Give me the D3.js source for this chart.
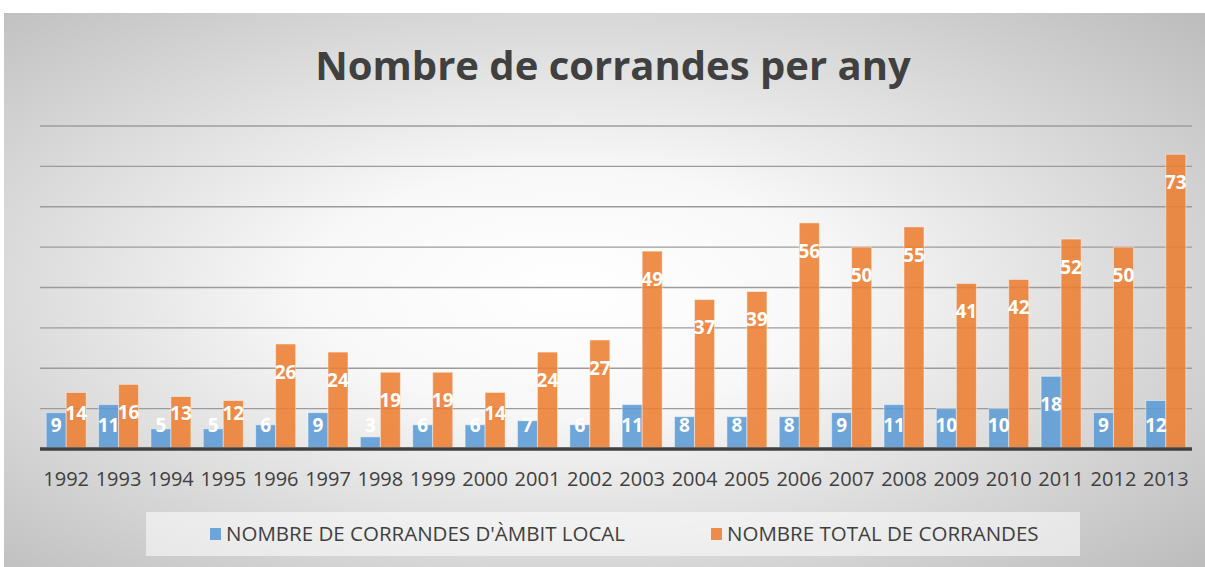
<!DOCTYPE html>
<html>
    <head>
        <title>Nombre de corrandes per any</title>
        <script src="https://d3js.org/d3.v7.min.js"></script>
        <style>
            * {
                font-family: 'Open Sans', sans-serif;
            }
            body {
                margin: 0;
                overflow: hidden;
                background: #ffffff;
            }
            svg {
                display: block;
            }
        </style>
    </head>
    <body>
        <script>
            const years = ['1992', '1993', '1994', '1995', '1996', '1997', '1998', '1999', '2000', '2001', '2002',
                '2003', '2004', '2005', '2006', '2007', '2008', '2009', '2010', '2011', '2012', '2013'];
            const local = [9, 11, 5, 5, 6, 9, 3, 6, 6, 7, 6, 11, 8, 8, 8, 9, 11, 10, 10, 18, 9, 12];
            const total = [14, 16, 13, 12, 26, 24, 19, 19, 14, 24, 27, 49, 37, 39, 56, 50, 55, 41, 42, 52, 50, 73];
            const seriesNames = ["NOMBRE DE CORRANDES D'ÀMBIT LOCAL", 'NOMBRE TOTAL DE CORRANDES'];
            const yTicks = [0, 10, 20, 30, 40, 50, 60, 70, 80];

            const width = 1205;
            const height = 567;
            const colors = ['#5b9bd5', '#ed7d31'];

            const svg = d3.select('body').append('svg').attr('width', width).attr('height', height);

            // background panel with soft radial shading
            const defs = svg.append('defs');
            const grad = defs.append('radialGradient').attr('id', 'bg').attr('cx', '0.47').attr('cy', '0.5').attr('r', '0.72');
            grad.append('stop').attr('offset', '0').attr('stop-color', '#ffffff');
            grad.append('stop').attr('offset', '0.3').attr('stop-color', '#f8f8f8');
            grad.append('stop').attr('offset', '1').attr('stop-color', '#bdbdbd');
            svg.append('rect').attr('x', 4).attr('y', 13).attr('width', width - 4).attr('height', height - 13).attr('fill', 'url(#bg)');

            svg.append('text')
                .attr('x', 613)
                .attr('y', 80)
                .attr('text-anchor', 'middle')
                .attr('font-size', 40)
                .attr('font-weight', 'bold')
                .attr('fill', '#404040')
                .text('Nombre de corrandes per any');

            const x0 = d3.scaleBand().domain(years).range([40, 1192]).paddingInner(0.236).paddingOuter(0.118);
            const x1 = d3.scaleBand().domain([0, 1]).range([0, x0.bandwidth()]);
            const y = d3.scaleLinear().domain([0, 80]).range([449, 126]);

            // gridlines
            svg.append('g')
                .selectAll('line')
                .data(yTicks.slice(1))
                .join('line')
                .attr('x1', 40)
                .attr('x2', 1192)
                .attr('y1', (d) => y(d))
                .attr('y2', (d) => y(d))
                .attr('stroke', '#9c9c9c')
                .attr('stroke-width', 1.3);

            const rows = years.map((yr, i) => ({ year: yr, values: [local[i], total[i]] }));

            const groups = svg.append('g').selectAll('g').data(rows).join('g').attr('transform', (d) => `translate(${x0(d.year)},0)`);

            groups.selectAll('rect')
                .data((d) => d.values.map((v, s) => ({ v, s })))
                .join('rect')
                .attr('x', (d) => x1(d.s))
                .attr('y', (d) => y(d.v))
                .attr('width', x1.bandwidth())
                .attr('height', (d) => y(0) - y(d.v) - 1.5)
                .attr('fill', (d) => colors[d.s])
                .attr('fill-opacity', 0.88)
                .attr('stroke', '#ffffff')
                .attr('stroke-opacity', 0.45)
                .attr('stroke-width', 1);

            // axis baseline
            svg.append('line')
                .attr('x1', 40)
                .attr('x2', 1192)
                .attr('y1', y(0))
                .attr('y2', y(0))
                .attr('stroke', '#404040')
                .attr('stroke-width', 3.5);

            // data labels
            const labelFloor = [425, 413];
            groups.selectAll('text')
                .data((d) => d.values.map((v, s) => ({ v, s })))
                .join('text')
                .attr('x', (d) => x1(d.s) + x1.bandwidth() / 2)
                .attr('y', (d) => Math.min(y(d.v) + 28, labelFloor[d.s]))
                .attr('dy', '0.36em')
                .attr('text-anchor', 'middle')
                .attr('font-size', 19)
                .attr('font-weight', 'bold')
                .attr('fill', '#ffffff')
                .text((d) => d.v);

            // category axis
            const xAxis = svg.append('g').attr('transform', `translate(0,${y(0)})`).call(d3.axisBottom(x0).tickSize(0).tickPadding(23));
            xAxis.select('.domain').remove();
            xAxis.selectAll('text').attr('font-size', 20).attr('fill', '#404040').attr('font-family', 'Open Sans');

            // legend
            svg.append('rect').attr('x', 146).attr('y', 512).attr('width', 934).attr('height', 44).attr('fill', '#ffffff').attr('fill-opacity', 0.55);
            const legendX = [210, 711];
            const legend = svg.append('g').selectAll('g').data(seriesNames).join('g').attr('transform', (d, i) => `translate(${legendX[i]},534)`);
            legend.append('rect').attr('x', 0).attr('y', -6).attr('width', 11).attr('height', 12).attr('fill', (d, i) => colors[i]).attr('fill-opacity', 0.88);
            legend.append('text')
                .attr('x', 16)
                .attr('dy', '0.36em')
                .attr('font-size', 20.5)
                .attr('fill', '#404040')
                .text((d) => d);
        </script>
    </body>
</html>
